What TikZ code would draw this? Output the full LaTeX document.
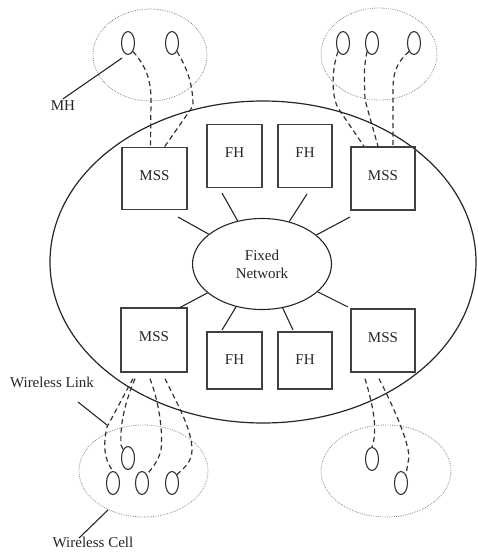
\documentclass[tikz,border=0pt]{standalone}
\usepackage{fontspec}
\setmainfont{Liberation Serif}
\usetikzlibrary{shapes.geometric}
\begin{document}
\begin{tikzpicture}[x=1pt,y=-1pt,
  lbl/.style={font=\fontsize{15}{18}\selectfont, text=black!85, inner sep=2pt},
  boxnode/.style={draw=black!75, line width=1.3pt, inner sep=0pt, font=\fontsize{15}{18}\selectfont, text=black!85, text depth=6pt},
  oval/.style={draw=black!80, line width=1.1pt, ellipse, minimum width=13pt, minimum height=23pt, inner sep=0pt},
  cell/.style={draw=black!55, line width=0.8pt, dash pattern=on 0.6pt off 1.2pt, ellipse, inner sep=0pt},
  link/.style={draw=black!80, line width=1.2pt, dash pattern=on 5pt off 3.5pt},
  spoke/.style={draw=black!85, line width=1.1pt},
  pointer/.style={draw=black!85, line width=1.1pt}]
\useasboundingbox (0,0) rectangle (478,552);

% main network ellipse
\node[draw=black!85, line width=1.2pt, ellipse, minimum width=426pt, minimum height=322pt, inner sep=0pt] (net) at (263,262) {};

% boxes
\node[boxnode, minimum width=65pt, minimum height=62pt] (mss1) at (154.5,178.5) {MSS};
\node[boxnode, minimum width=64pt, minimum height=63pt] (mss2) at (383,178.5) {MSS};
\node[boxnode, minimum width=66pt, minimum height=64pt] (mss3) at (154,340) {MSS};
\node[boxnode, minimum width=64pt, minimum height=63pt] (mss4) at (383,340.5) {MSS};
\node[boxnode, minimum width=55pt, minimum height=63pt] (fh1) at (234.5,156) {FH};
\node[boxnode, minimum width=54pt, minimum height=63pt] (fh2) at (305,156) {FH};
\node[boxnode, minimum width=55pt, minimum height=57pt, text depth=2pt] (fh3) at (234.5,360.5) {FH};
\node[boxnode, minimum width=54pt, minimum height=57pt, text depth=2pt] (fh4) at (305,360.5) {FH};

% fixed network
\node[draw=black!85, line width=1.1pt, ellipse, minimum width=139pt, minimum height=91pt, inner sep=0pt, align=center, font=\fontsize{15}{18}\selectfont, text=black!85] (fn) at (262,264) {Fixed\\Network};

% spokes
\coordinate (s1) at (178,217);
\coordinate (s2) at (222,193);
\coordinate (s3) at (307,194);
\coordinate (s4) at (350,217);
\coordinate (s5) at (179,308);
\coordinate (s6) at (222,330);
\coordinate (s7) at (293,330);
\coordinate (s8) at (348,307);
\foreach \s in {s1,s2,s3,s4,s5,s6,s7,s8} \draw[spoke] (fn) -- (\s);

% wireless cells
\node[cell, minimum width=114pt, minimum height=92pt] (c1) at (150,55) {};
\node[cell, minimum width=116pt, minimum height=92pt] (c2) at (379,54) {};
\node[cell, minimum width=129pt, minimum height=92pt] (c3) at (143.5,471) {};
\node[cell, minimum width=130pt, minimum height=92pt] (c4) at (386,471) {};

% mobile hosts
\node[oval] (o1) at (128,43) {};
\node[oval] (o2) at (172,43) {};
\node[oval] (o3) at (343,43) {};
\node[oval] (o4) at (372,43) {};
\node[oval] (o5) at (414,43) {};
\node[oval] (o6) at (128,458) {};
\node[oval] (o7) at (113,483) {};
\node[oval] (o8) at (142,483) {};
\node[oval] (o9) at (172,483) {};
\node[oval] (o10) at (372,459) {};
\node[oval] (o11) at (401,483) {};

% wireless links, top left
\draw[link] (o1.south east) .. controls (146,66) and (151,80) .. (151,100) -- ([xshift=-4pt]mss1.north);
\draw[link] (o2.south east) .. controls (187,68) and (193,84) .. (193,106) -- ([xshift=10pt]mss1.north);
% top right
\draw[link] (o3.south west) .. controls (332,68) and (331,95) .. (338,108) -- ([xshift=-19pt]mss2.north);
\draw[link] (o4.south west) .. controls (364,68) .. (365,100) -- ([xshift=-5pt]mss2.north);
\draw[link] (o5.south west) .. controls (395,64) and (393,75) .. (393,90) -- ([xshift=10pt]mss2.north);
% bottom left
\draw[link] ([xshift=-21pt,yshift=-6pt]mss3.south) -- (107,427) .. controls (103,445) and (104,460) .. (o7.north);
\draw[link] ([xshift=-19pt,yshift=-6pt]mss3.south) .. controls (124,405) and (120,425) .. (121,445) -- (o6.north west);
\draw[link] ([xshift=-4pt,yshift=-6pt]mss3.south) .. controls (160,405) and (163,435) .. (161,450) .. controls (158,462) and (152,468) .. (o8.north east);
\draw[link] ([xshift=11pt,yshift=-6pt]mss3.south) .. controls (178,405) and (192,430) .. (192,450) .. controls (192,462) and (184,468) .. (o9.north east);
% bottom right
\draw[link] ([xshift=-18pt,yshift=-6pt]mss4.south) .. controls (373,405) and (378,430) .. (o10.north);
\draw[link] ([xshift=-4pt,yshift=-6pt]mss4.south) .. controls (395,410) and (408,440) .. (409,457) -- (o11.north east);

% labels and pointers
\node[lbl] (mh) at (63,106) {MH};
\draw[pointer] (mh.north) -- ([xshift=-6pt,yshift=-3pt]o1.south);

\node[lbl] (wlink) at (52,382) {Wireless Link};
\coordinate (wlA) at (78,402);
\coordinate (wlB) at (107,425);
\draw[pointer] (wlA) -- (wlB);

\node[lbl] (wcell) at (93,542) {Wireless Cell};
\coordinate (wcA) at (108,510);
\coordinate (wcB) at (79,538);
\draw[pointer] (wcA) -- (wcB);
\end{tikzpicture}
\end{document}
